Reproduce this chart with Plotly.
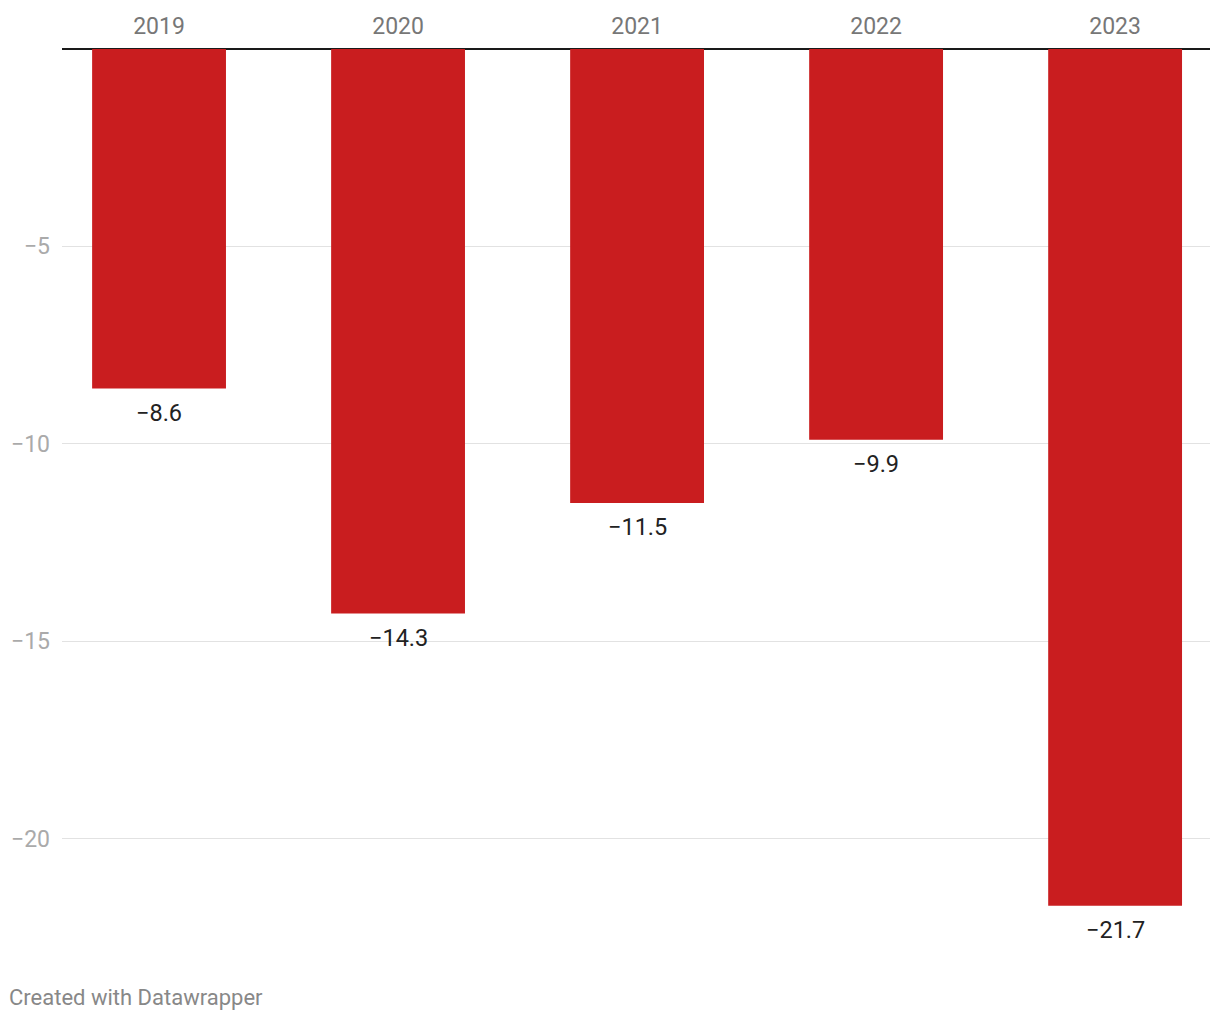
import plotly.graph_objects as go

years = ["2019", "2020", "2021", "2022", "2023"]
values = [-8.6, -14.3, -11.5, -9.9, -21.7]
y_ticks = [-5, -10, -15, -20]
y_tick_text = ["\u22125", "\u221210", "\u221215", "\u221220"]

BAR_COLOR = "#c91d1f"


def fmt(v):
    return f"{v:.1f}".replace("-", "\u2212")


fig = go.Figure()
fig.add_trace(go.Bar(
    x=years,
    y=values,
    width=0.56,
    marker=dict(color=BAR_COLOR, line=dict(width=0)),
    hoverinfo="skip",
))

# value labels under each bar (category index, since the years look numeric)
for i, v in enumerate(values):
    fig.add_annotation(
        x=i, y=v, text=fmt(v), showarrow=False,
        yanchor="top", yshift=-8,
        font=dict(family="Roboto", size=23.5, color="#222222"),
    )

fig.add_annotation(
    text="Created with Datawrapper", xref="paper", yref="paper",
    x=-0.0475, y=-0.0285, xanchor="left", yanchor="top", showarrow=False,
    font=dict(family="Roboto", size=22, color="#888888"),
)

fig.update_layout(
    width=1220, height=1020,
    margin=dict(l=62, r=10, t=49, b=63),
    plot_bgcolor="white", paper_bgcolor="white",
    showlegend=False,
    font=dict(family="Roboto"),
    xaxis=dict(
        side="top", type="category", range=[-0.406, 4.397],
        showgrid=False, ticks="", showline=False, zeroline=False,
        tickfont=dict(size=23, color="#777777"), ticklabelstandoff=9,
    ),
    yaxis=dict(
        range=[-23, 0], tickvals=y_ticks, ticktext=y_tick_text,
        showgrid=True, gridcolor="#e2e2e2", gridwidth=1,
        zeroline=True, zerolinecolor="#1a1a1a", zerolinewidth=2,
        showline=False, ticks="",
        tickfont=dict(size=23, color="#aaaaaa"), ticklabelstandoff=11,
    ),
)

fig.write_html("out.html", config={"displayModeBar": False},
               post_script="document.body.style.margin='0';")
